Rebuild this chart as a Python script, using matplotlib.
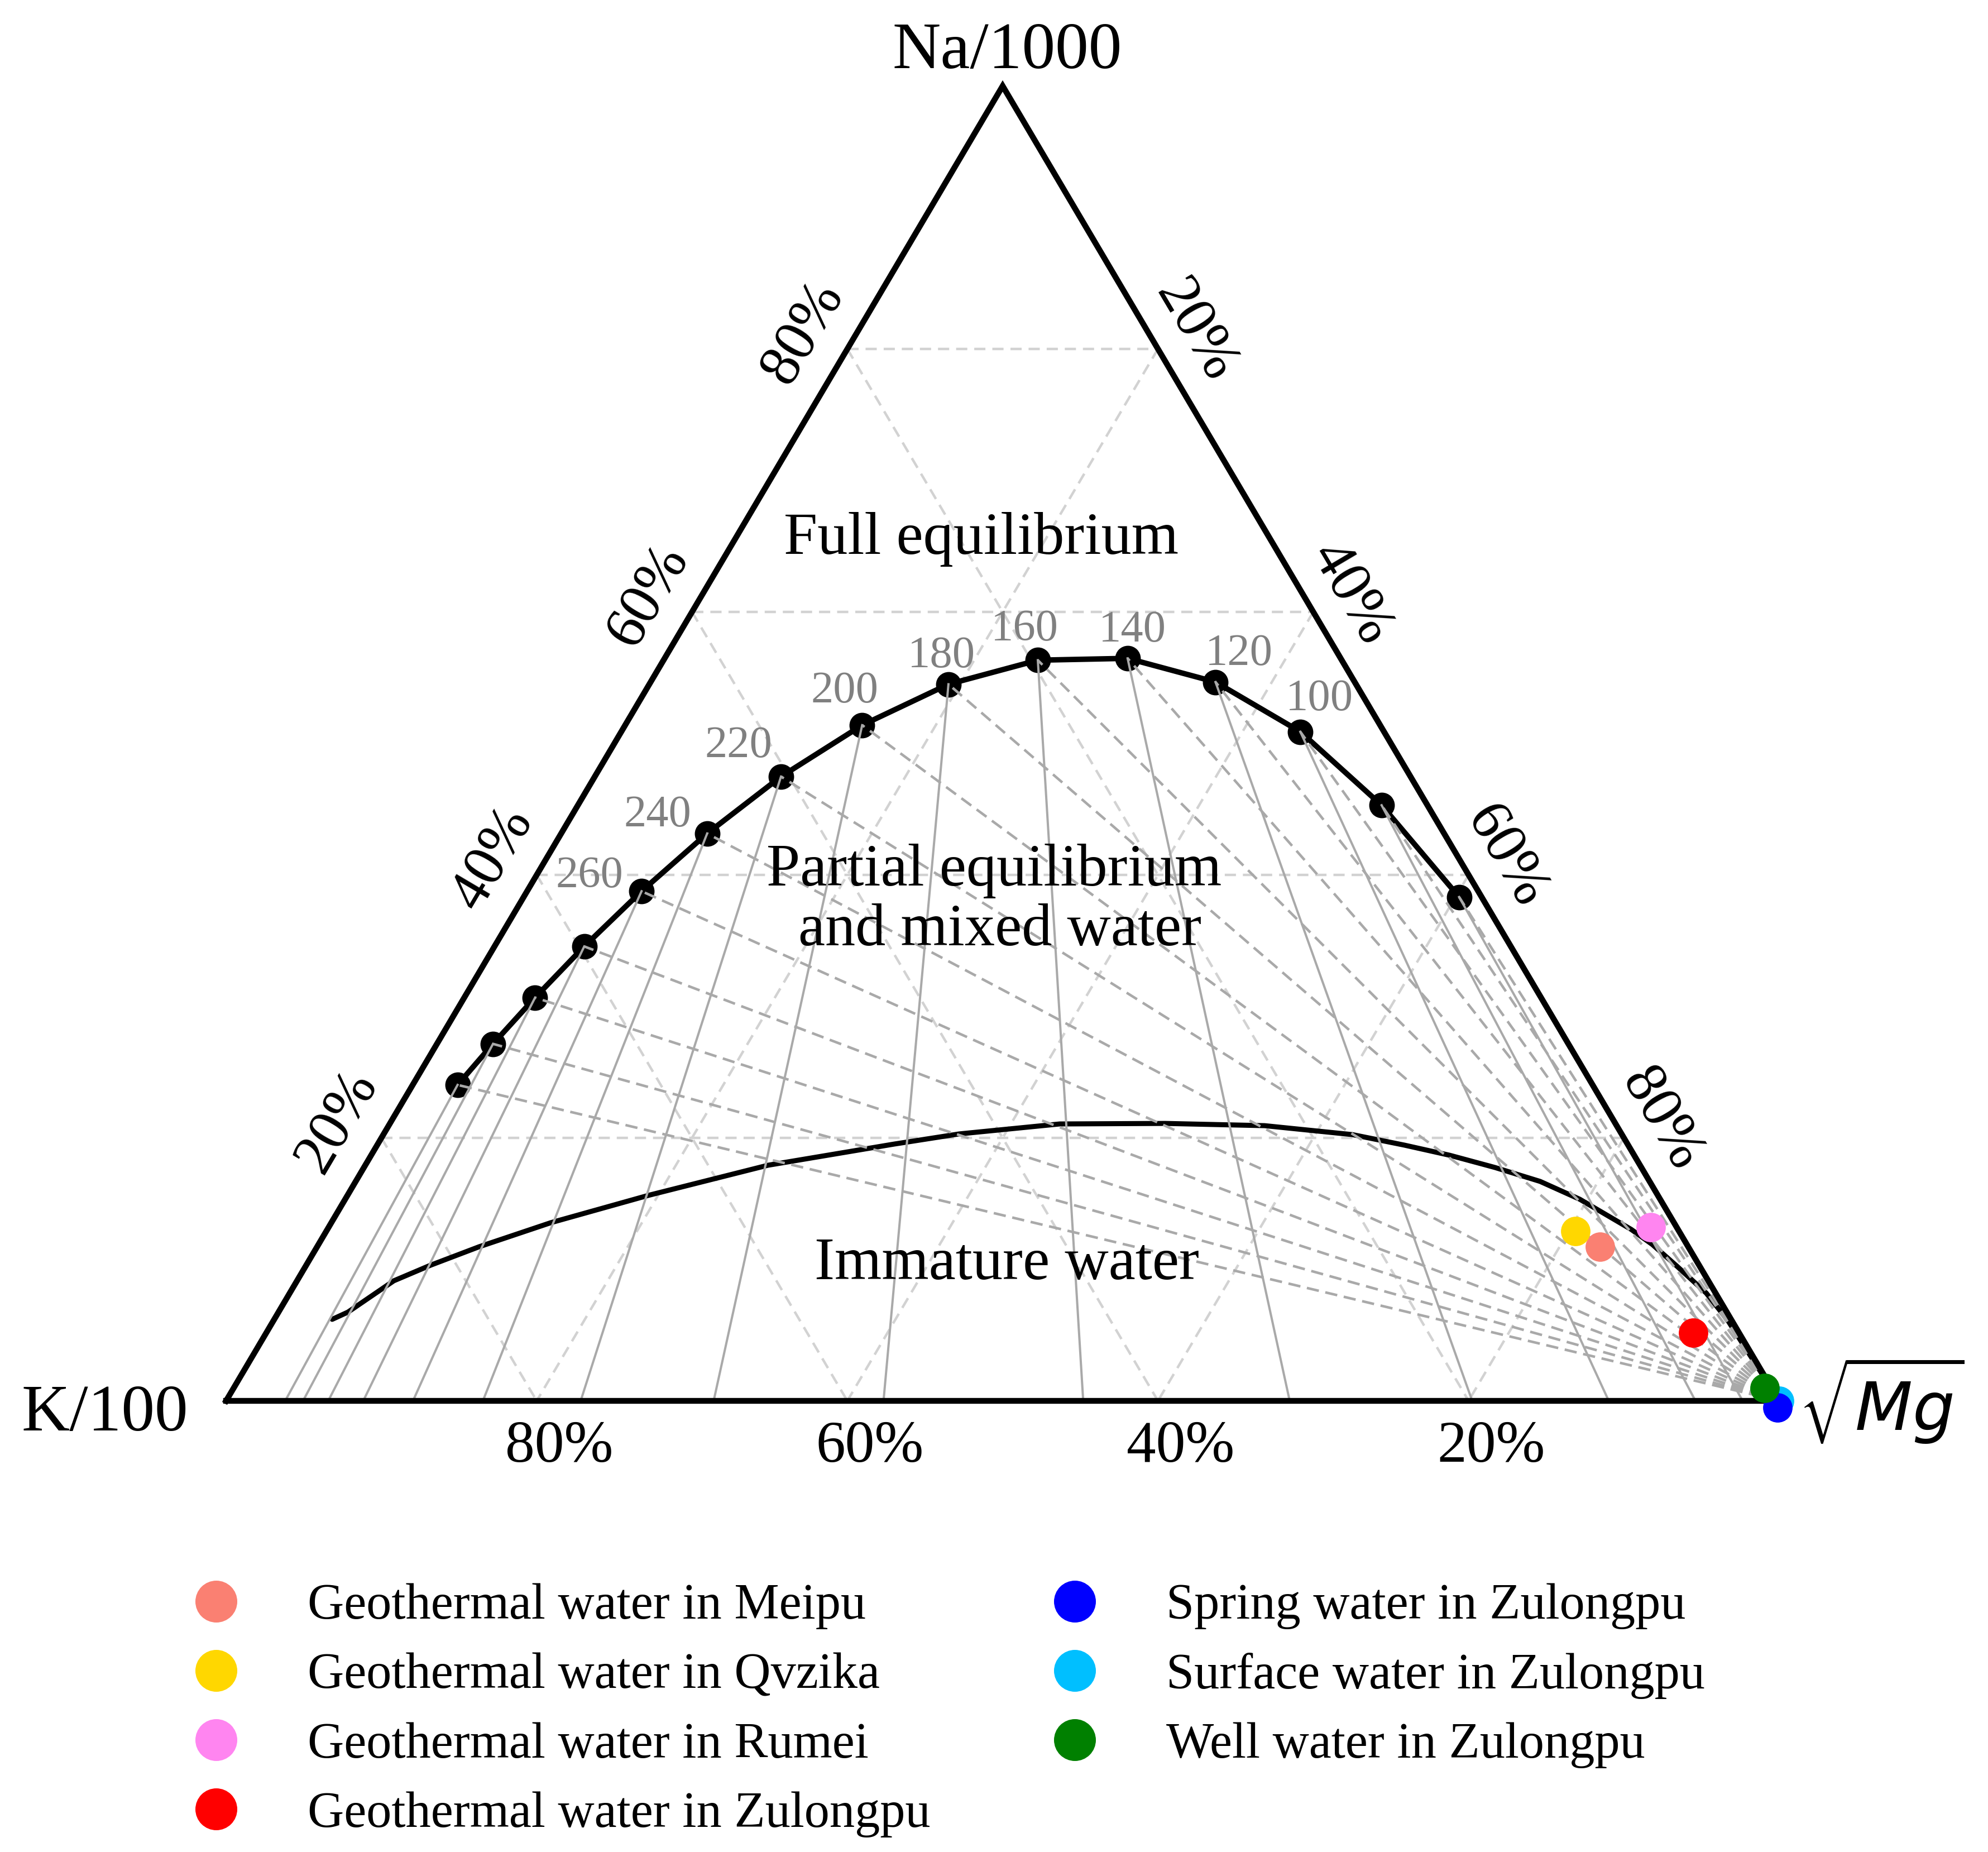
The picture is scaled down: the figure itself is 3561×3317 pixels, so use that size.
import numpy as np
import matplotlib
matplotlib.use("Agg")
import matplotlib.pyplot as plt
from matplotlib.lines import Line2D

plt.rcParams['font.family'] = ['Liberation Serif', 'DejaVu Sans']
plt.rcParams['mathtext.fontset'] = 'dejavusans'

# ---------------- data (percent of Na/1000, K/100, sqrt(Mg)) ----------------
eq_temps = [60, 80, 100, 120, 140, 160, 180, 200, 220, 240, 260, 280, 300, 320, 340]
eq_na = [38.32, 45.30, 50.89, 54.67, 56.47, 56.33, 54.50, 51.39, 47.48, 43.15, 38.76, 34.56, 30.67, 27.15, 24.03]
eq_k = [1.45, 2.95, 5.39, 8.96, 13.72, 19.57, 26.24, 33.35, 40.53, 47.45, 53.87, 59.66, 64.77, 69.24, 73.08]
eq_mg = [60.23, 51.75, 43.72, 36.37, 29.81, 24.10, 19.26, 15.26, 11.99, 9.40, 7.37, 5.78, 4.56, 3.61, 2.89]
labelled_temps = [100, 120, 140, 160, 180, 200, 220, 240, 260]

# immature-water boundary
imm_na = [6.20, 6.75, 9.13, 10.32, 11.72, 13.55, 15.63, 17.92, 19.53, 20.30, 21.06, 21.10, 20.93,
          20.25, 19.45, 18.68, 17.75, 16.69, 15.33, 13.04, 11.89, 10.28, 8.20, 6.11, 2.00, 0.50]
imm_k = [90.07, 88.78, 84.64, 81.67, 77.85, 72.32, 64.99, 56.15, 47.22, 42.66, 35.80, 28.98, 22.67,
         17.36, 14.41, 11.88, 9.43, 7.05, 5.17, 3.01, 2.22, 1.48, 0.60, 0.25, 0.08, 0.02]
imm_mg = [3.73, 4.47, 6.23, 8.01, 10.43, 14.13, 19.38, 25.93, 33.25, 37.04, 43.14, 49.92, 56.40,
          62.39, 66.14, 69.44, 72.82, 76.26, 79.50, 83.95, 85.89, 88.24, 91.20, 93.64, 97.92, 99.48]

sample_names = ["Geothermal water in Meipu", "Geothermal water in Qvzika",
                "Geothermal water in Rumei", "Geothermal water in Zulongpu",
                "Spring water in Zulongpu", "Surface water in Zulongpu",
                "Well water in Zulongpu"]
sample_na = [11.72, 12.91, 13.21, 5.18, -0.51, 0.00, 0.98]
sample_k = [5.69, 6.67, 1.66, 2.95, 0.36, 0.00, 0.45]
sample_mg = [82.59, 80.42, 85.13, 91.87, 100.15, 100.00, 98.57]
sample_colors = ["#FA8072", "#FFD700", "#FF85F0", "#FF0000", "#0000FF", "#00BFFF", "#008000"]

grid_levels = [20, 40, 60, 80]

# ---------------- figure ----------------
W, H = 3561, 3317
fig = plt.figure(figsize=(W / 100, H / 100), dpi=100)
x0, x1, ytop, ybot = 405, 3187, 154, 2509
ax = fig.add_axes([x0 / W, (H - ybot) / H, (x1 - x0) / W, (ybot - ytop) / H])
ax.set_xlim(0, 1)
ax.set_ylim(0, 1)
ax.axis('off')


def tern(na, k, mg):
    na = np.asarray(na, float); k = np.asarray(k, float); mg = np.asarray(mg, float)
    s = na + k + mg
    return (mg + na / 2) / s, na / s


def px2pt(dx, dy):
    # pixel offset (x right, y down) -> offset points (y up)
    return dx * 0.72, -dy * 0.72


GRID_C = '#D2D2D2'
ISO_C = '#A9A9A9'

# grid
for v in grid_levels:
    f = v / 100
    for seg in (tern([f, f], [1 - f, 0], [0, 1 - f]),
                tern([1 - f, 0], [f, f], [0, 1 - f]),
                tern([1 - f, 0], [0, 1 - f], [f, f])):
        ax.plot(*seg, color=GRID_C, lw=3.2, ls=(0, (4.5, 2.8)), zorder=1)

# immature boundary
ix, iy = tern(imm_na, imm_k, imm_mg)
ax.plot(ix, iy, color='black', lw=6.5, zorder=2, solid_capstyle='round')

# full equilibrium line
ex, ey = tern(eq_na, eq_k, eq_mg)
ax.plot(ex, ey, color='black', lw=7.0, zorder=3)
ax.plot(ex, ey, ls='none', marker='o', ms=32, color='black', zorder=3)

# isotherms
bx, by = tern(np.zeros(len(eq_k)), eq_k, eq_mg)
mx, my = tern(0, 0, 100)
for i in range(len(eq_temps)):
    ax.plot([mx, ex[i]], [my, ey[i]], color=ISO_C, lw=3.3, ls=(0, (4.8, 2.6)), zorder=4)
    ax.plot([ex[i], bx[i]], [ey[i], by[i]], color=ISO_C, lw=2.9, zorder=4)

# triangle
tx, ty = tern([0, 0, 100, 0], [100, 0, 0, 100], [0, 100, 0, 0])
ax.plot(tx, ty, color='black', lw=7.5, zorder=5, solid_joinstyle='miter', clip_on=False)

# temperature labels
temp_offsets = {100: (34, -58), 120: (42, -50), 140: (9, -50), 160: (-24, -55), 180: (-12, -50),
                200: (-31, -60), 220: (-76, -54), 240: (-89, -32), 260: (-93, -27)}
for t in labelled_temps:
    i = eq_temps.index(t)
    ax.annotate(str(t), xy=(ex[i], ey[i]), xytext=px2pt(*temp_offsets[t]),
                textcoords='offset points', ha='center', va='center',
                fontsize=58, color='#808080', zorder=6)

# axis tick labels
for v in grid_levels:
    f = v / 100
    # bottom (K)
    px_, py_ = tern(0, f, 1 - f)
    ax.annotate(f"{v}%", xy=(px_, py_), xytext=px2pt(40, 109), textcoords='offset points',
                ha='center', va='baseline', fontsize=76, annotation_clip=False)
    # left (Na)
    px_, py_ = tern(f, 1 - f, 0)
    ax.annotate(f"{v}%", xy=(px_, py_), xytext=px2pt(-78, -29), textcoords='offset points',
                ha='center', va='center', rotation=59.4, rotation_mode='anchor',
                fontsize=76, annotation_clip=False)
    # right (Mg)
    px_, py_ = tern(1 - f, 0, f)
    ax.annotate(f"{v}%", xy=(px_, py_), xytext=px2pt(66, -32), textcoords='offset points',
                ha='center', va='center', rotation=-59.4, rotation_mode='anchor',
                fontsize=76, annotation_clip=False)

# vertex labels
fig.text(1804 / W, 1 - 122 / H, "Na/1000", ha='center', va='baseline', fontsize=86)
fig.text(337 / W, 1 - 2562 / H, "K/100", ha='right', va='baseline', fontsize=86)
fig.text(3222 / W, 1 - 2562 / H, r"$\sqrt{Mg}$", ha='left', va='baseline', fontsize=86)

# region labels
fig.text(1758 / W, 1 - 992 / H, "Full equilibrium", ha='center', va='baseline', fontsize=78)
fig.text(1781 / W, 1 - 1586 / H, "Partial equilibrium", ha='center', va='baseline', fontsize=78)
fig.text(1791 / W, 1 - 1693 / H, "and mixed water", ha='center', va='baseline', fontsize=78)
fig.text(1804 / W, 1 - 2291 / H, "Immature water", ha='center', va='baseline', fontsize=78)

# samples
sx, sy = tern(sample_na, sample_k, sample_mg)
draw_order = [0, 1, 2, 3, 5, 4, 6]
for z, i in enumerate(draw_order):
    ax.plot(sx[i], sy[i], ls='none', marker='o', ms=38, mfc=sample_colors[i], mec='none',
            zorder=10 + z, clip_on=False)

handles = [Line2D([], [], ls='none', marker='o', ms=54, mfc=c, mec='none') for c in sample_colors]
ax.legend(handles, sample_names, ncol=2, loc='upper left',
          bbox_to_anchor=(342 / W, 1 - 2836 / H), bbox_transform=fig.transFigure,
          frameon=False, prop={'family': 'Liberation Serif', 'size': 65},
          handlelength=1.0, handletextpad=1.31, columnspacing=2.37, labelspacing=0.46,
          borderpad=0, borderaxespad=0)

fig.savefig("out.png", dpi=100, facecolor='white')
